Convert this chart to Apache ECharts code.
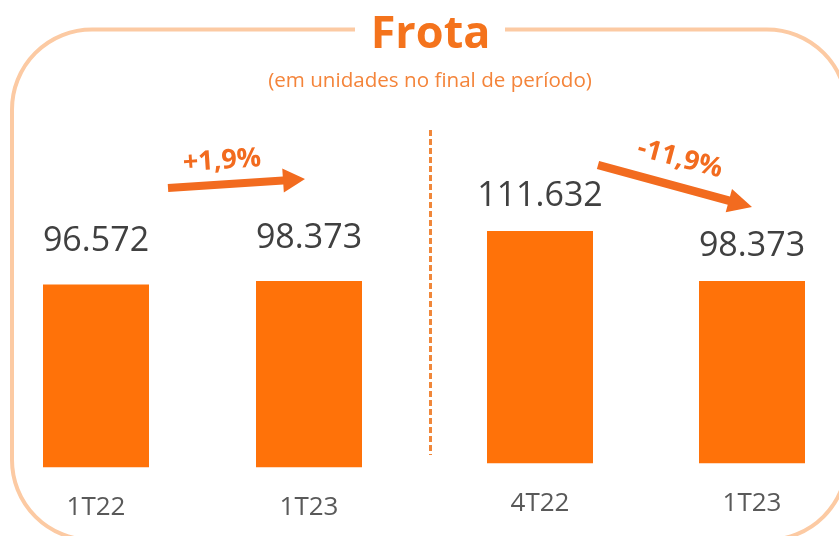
<!DOCTYPE html>
<html>
<head>
<meta charset="utf-8">
<script src="https://cdn.jsdelivr.net/npm/echarts@6/dist/echarts.min.js"></script>
<style>
  html, body { margin: 0; padding: 0; background: #ffffff; }
  #chart { width: 839px; height: 536px; }
</style>
</head>
<body>
<div id="chart"></div>
<script>
// ---- data ----
const categoriesA = ['1T22', '1T23'];
const valuesA = [96572, 98373];
const categoriesB = ['4T22', '1T23'];
const valuesB = [111632, 98373];
const titleText = 'Frota';
const subtitleText = '(em unidades no final de período)';

// ---- helpers ----
function fmtThousands(v) {
  return String(v).replace(/\B(?=(\d{3})+(?!\d))/g, '.');
}
function fmtPct(a, b) {
  const p = (b / a - 1) * 100;
  const s = Math.abs(p).toFixed(1).replace('.', ',');
  return (p >= 0 ? '+' : '-') + s + '%';
}
function arrowPoints(x1, y1, x2, y2, shaft, headLen, headW) {
  const dx = x2 - x1, dy = y2 - y1, L = Math.hypot(dx, dy);
  const ux = dx / L, uy = dy / L, nx = -uy, ny = ux;
  const bx = x2 - ux * headLen, by = y2 - uy * headLen;
  const s = shaft / 2, h = headW / 2;
  return [
    [x1 + nx * s, y1 + ny * s], [bx + nx * s, by + ny * s], [bx + nx * h, by + ny * h],
    [x2, y2],
    [bx - nx * h, by - ny * h], [bx - nx * s, by - ny * s], [x1 - nx * s, y1 - ny * s]
  ];
}

const BAR = '#FF7209';
const ORANGE = '#F26B1F';
const FONT = 'Open Sans';

const chart = echarts.init(document.getElementById('chart'), null, { renderer: 'canvas' });

const catAxis = (gi, data) => ({
  type: 'category', gridIndex: gi, data: data,
  axisLine: { show: false }, axisTick: { show: false },
  axisLabel: { margin: 27, fontSize: 26, color: '#595959', fontFamily: FONT }
});
const barSeries = (gi, data, dist) => ({
  type: 'bar', xAxisIndex: gi, yAxisIndex: gi, data: data,
  barWidth: 106,
  itemStyle: { color: BAR },
  label: {
    show: true, position: 'top', distance: dist,
    fontSize: 34, lineHeight: 34, color: '#404040', fontFamily: FONT,
    formatter: p => fmtThousands(p.value)
  },
  silent: true
});

chart.setOption({
  animation: false,
  backgroundColor: '#ffffff',
  grid: [
    { left: -10.5, width: 426, top: 240, height: 227.3, outerBoundsMode: 'none', containLabel: false },
    { left: 434, width: 424, top: 199.5, height: 263.8, outerBoundsMode: 'none', containLabel: false }
  ],
  xAxis: [catAxis(0, categoriesA), catAxis(1, categoriesB)],
  yAxis: [
    { type: 'value', gridIndex: 0, min: 0, max: 120000, show: false },
    { type: 'value', gridIndex: 1, min: 50000, max: 120000, show: false }
  ],
  series: [barSeries(0, valuesA, 26), barSeries(1, valuesB, 18)],
  graphic: [
    { type: 'rect', z: 0, shape: { x: 12, y: 29.5, width: 835, height: 510.5, r: 80 },
      style: { fill: 'none', stroke: '#FCCAA3', lineWidth: 4 } },
    { type: 'rect', z: 1, shape: { x: 355, y: 22, width: 150, height: 16 },
      style: { fill: '#ffffff' } },
    { type: 'text', z: 2, x: 430.5, y: 35,
      style: { text: titleText, fontSize: 45, fontWeight: 'bold', fontFamily: FONT,
               fill: '#F4731C', align: 'center', verticalAlign: 'middle' } },
    { type: 'text', z: 2, x: 430, y: 81,
      style: { text: subtitleText, fontSize: 20.6, fontFamily: FONT,
               fill: '#F4843A', align: 'center', verticalAlign: 'middle' } },
    { type: 'line', z: 2, shape: { x1: 430.5, y1: 130, x2: 430.5, y2: 455 },
      style: { stroke: '#F0873A', lineWidth: 3, lineDash: [6, 3] } },
    { type: 'polygon', z: 2, shape: { points: arrowPoints(168, 188, 305, 179, 8, 22, 24) },
      style: { fill: ORANGE } },
    { type: 'polygon', z: 2, shape: { points: arrowPoints(598, 165, 752, 207, 8.5, 24, 24) },
      style: { fill: ORANGE } },
    { type: 'text', z: 2, x: 222, y: 161, rotation: 0.066,
      style: { text: fmtPct(valuesA[0], valuesA[1]), fontSize: 27, fontWeight: 'bold', fontFamily: FONT,
               fill: ORANGE, align: 'center', verticalAlign: 'middle' } },
    { type: 'text', z: 2, x: 680, y: 159, rotation: -0.26,
      style: { text: fmtPct(valuesB[0], valuesB[1]), fontSize: 27, fontWeight: 'bold', fontFamily: FONT,
               fill: ORANGE, align: 'center', verticalAlign: 'middle' } }
  ]
});
</script>
</body>
</html>
